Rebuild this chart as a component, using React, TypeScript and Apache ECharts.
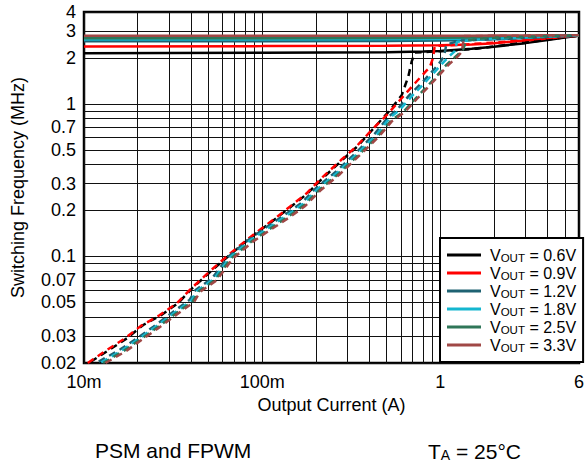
import React, { useEffect, useRef } from 'react';
import * as echarts from 'echarts';

const FONT = '"Liberation Sans", Arial, Helvetica, sans-serif';

// ---- axis ticks / labels ----
const xLabelValues = [0.01, 0.1, 1, 6];
const xLabelTexts = ['10m', '100m', '1', '6'];
const xGridValues = [0.01, 0.02, 0.03, 0.04, 0.05, 0.06, 0.07, 0.08, 0.09, 0.1, 0.2, 0.3, 0.4, 0.5, 0.6, 0.7, 0.8, 0.9, 1, 2, 3, 4, 5, 6];
const yLabelValues = [0.02, 0.03, 0.05, 0.07, 0.1, 0.2, 0.3, 0.5, 0.7, 1, 2, 3, 4];
const yLabelTexts = ['0.02', '0.03', '0.05', '0.07', '0.1', '0.2', '0.3', '0.5', '0.7', '1', '2', '3', '4'];
const yGridValues = [0.02, 0.03, 0.04, 0.05, 0.06, 0.07, 0.08, 0.09, 0.1, 0.2, 0.3, 0.4, 0.5, 0.6, 0.7, 0.8, 0.9, 1, 2, 3, 4];

// ---- series ----
const seriesNames = ['0.6V', '0.9V', '1.2V', '1.8V', '2.5V', '3.3V'];
const seriesColors = ['#000000', '#ff0000', '#1e6272', '#14b6cf', '#2f7658', '#a04846'];

// FPWM (solid) – output current (A) / switching frequency (MHz)
const iFpwm06 = [0.01, 0.1, 0.5, 0.8, 1.0, 1.5, 2, 3, 4, 5, 6];
const fFpwm06 = [2.15, 2.16, 2.18, 2.2, 2.22, 2.3, 2.37, 2.5, 2.62, 2.72, 2.8];
const iFpwm09 = [0.01, 0.1, 0.5, 1, 1.5, 2, 3, 4, 5, 6];
const fFpwm09 = [2.38, 2.39, 2.4, 2.42, 2.45, 2.5, 2.6, 2.68, 2.75, 2.8];
const iFpwm12 = [0.01, 0.1, 0.5, 1, 1.5, 2, 3, 4, 5, 6];
const fFpwm12 = [2.57, 2.57, 2.58, 2.6, 2.62, 2.65, 2.7, 2.74, 2.77, 2.8];
const iFpwm18 = [0.01, 0.1, 0.5, 1, 1.5, 2, 3, 4, 5, 6];
const fFpwm18 = [2.64, 2.64, 2.65, 2.66, 2.68, 2.7, 2.73, 2.76, 2.78, 2.8];
const iFpwm25 = [0.01, 0.1, 0.5, 1, 1.5, 2, 3, 4, 5, 6];
const fFpwm25 = [2.69, 2.69, 2.7, 2.71, 2.72, 2.73, 2.75, 2.77, 2.79, 2.81];
const iFpwm33 = [0.01, 0.1, 0.5, 1, 1.5, 2, 3, 4, 5, 6];
const fFpwm33 = [2.8, 2.8, 2.8, 2.8, 2.8, 2.81, 2.81, 2.82, 2.82, 2.82];

// PSM (dashed)
const iPsm06 = [0.0109, 0.0138, 0.0174, 0.0215, 0.0272, 0.0337, 0.0405, 0.0501, 0.0594, 0.0767, 0.095, 0.12, 0.149, 0.18, 0.223, 0.282, 0.341, 0.423, 0.523, 0.607, 0.661, 0.69, 0.72, 0.9, 1.2, 1.6, 2, 3, 4, 5, 6];
const fPsm06 = [0.0204, 0.0243, 0.029, 0.0355, 0.0413, 0.0493, 0.0618, 0.0775, 0.0923, 0.119, 0.145, 0.178, 0.217, 0.259, 0.333, 0.429, 0.524, 0.692, 0.912, 1.14, 1.51, 1.89, 2.17, 2.2, 2.24, 2.3, 2.38, 2.52, 2.64, 2.73, 2.8];
const iPsm09 = [0.0105, 0.0132, 0.0168, 0.021, 0.0265, 0.033, 0.0398, 0.049, 0.058, 0.075, 0.093, 0.118, 0.146, 0.177, 0.219, 0.277, 0.336, 0.42, 0.501, 0.594, 0.72, 0.836, 0.87, 0.91, 0.93, 1.3, 2, 3, 4, 5, 6];
const fPsm09 = [0.02, 0.024, 0.0288, 0.0352, 0.0411, 0.049, 0.0612, 0.0768, 0.0915, 0.118, 0.144, 0.177, 0.216, 0.258, 0.332, 0.428, 0.522, 0.69, 0.846, 1.06, 1.365, 1.65, 1.72, 2.0, 2.4, 2.44, 2.52, 2.62, 2.7, 2.76, 2.8];
const iPsm12 = [0.0121, 0.016, 0.0198, 0.0245, 0.0309, 0.0391, 0.0423, 0.0523, 0.0647, 0.0836, 0.1035, 0.1337, 0.1653, 0.2004, 0.26, 0.349, 0.43, 0.512, 0.57, 0.67, 0.8, 0.97, 1.05, 1.08, 1.3, 1.6, 2, 3, 4, 5, 6];
const fPsm12 = [0.0204, 0.0246, 0.029, 0.0346, 0.0424, 0.0518, 0.0602, 0.0718, 0.0996, 0.128, 0.153, 0.187, 0.223, 0.28, 0.36, 0.499, 0.64, 0.824, 0.912, 1.14, 1.4, 1.8, 2.05, 2.45, 2.6, 2.63, 2.66, 2.71, 2.75, 2.78, 2.8];
const iPsm18 = [0.0125, 0.0165, 0.0203, 0.025, 0.0316, 0.04, 0.0432, 0.0535, 0.066, 0.0855, 0.106, 0.137, 0.169, 0.205, 0.266, 0.357, 0.44, 0.52, 0.585, 0.69, 0.82, 1.0, 1.12, 1.2, 1.24, 1.5, 2, 3, 4, 5, 6];
const fPsm18 = [0.0202, 0.0244, 0.0288, 0.0343, 0.042, 0.0513, 0.0596, 0.071, 0.0985, 0.127, 0.151, 0.185, 0.22, 0.277, 0.356, 0.495, 0.63, 0.81, 0.9, 1.12, 1.38, 1.78, 2.05, 2.2, 2.55, 2.62, 2.67, 2.72, 2.76, 2.79, 2.81];
const iPsm25 = [0.0128, 0.0168, 0.0207, 0.0256, 0.0322, 0.0408, 0.0441, 0.0545, 0.0672, 0.087, 0.108, 0.14, 0.172, 0.209, 0.27, 0.362, 0.45, 0.53, 0.621, 0.73, 0.93, 1.08, 1.25, 1.34, 1.4, 1.7, 2, 3, 4, 5, 6];
const fPsm25 = [0.02, 0.0241, 0.0285, 0.034, 0.0416, 0.0508, 0.059, 0.0703, 0.0975, 0.125, 0.149, 0.182, 0.217, 0.272, 0.35, 0.485, 0.62, 0.78, 0.889, 1.09, 1.47, 1.8, 2.1, 2.26, 2.6, 2.68, 2.71, 2.75, 2.78, 2.8, 2.82];
const iPsm33 = [0.0132, 0.0172, 0.021, 0.026, 0.0328, 0.0415, 0.0448, 0.0555, 0.0683, 0.088, 0.11, 0.142, 0.175, 0.212, 0.274, 0.366, 0.455, 0.535, 0.63, 0.74, 0.94, 1.1, 1.27, 1.32, 1.36, 1.8, 2.2, 3, 4, 5, 6];
const fPsm33 = [0.02, 0.0239, 0.0283, 0.0337, 0.0412, 0.0503, 0.0585, 0.0697, 0.0965, 0.124, 0.148, 0.18, 0.215, 0.27, 0.347, 0.48, 0.615, 0.77, 0.88, 1.08, 1.45, 1.78, 2.08, 2.2, 2.78, 2.79, 2.8, 2.8, 2.81, 2.81, 2.82];

const fpwmI = [iFpwm06, iFpwm09, iFpwm12, iFpwm18, iFpwm25, iFpwm33];
const fpwmF = [fFpwm06, fFpwm09, fFpwm12, fFpwm18, fFpwm25, fFpwm33];
const psmI = [iPsm06, iPsm09, iPsm12, iPsm18, iPsm25, iPsm33];
const psmF = [fPsm06, fPsm09, fPsm12, fPsm18, fPsm25, fPsm33];

const zip = (xs: number[], ys: number[]) => xs.map((x, i) => [x, ys[i]]);
const lookup = (vals: number[], texts: string[]) => (v: number) => {
  for (let i = 0; i < vals.length; i++) {
    if (Math.abs(v - vals[i]) / vals[i] < 1e-6) return texts[i];
  }
  return '';
};

export default function App() {
  const ref = useRef<HTMLDivElement>(null);
  useEffect(() => {
    if (!ref.current) return;
    const chart = echarts.init(ref.current, null, { renderer: 'svg' });
    const series: any[] = [];
    seriesNames.forEach((n, k) => {
      series.push({
        name: n,
        type: 'line',
        data: zip(fpwmI[k], fpwmF[k]),
        symbol: 'none',
        lineStyle: { color: seriesColors[k], width: 2.5, type: 'solid' },
        itemStyle: { color: seriesColors[k] },
        z: 2,
      });
    });
    seriesNames.forEach((n, k) => {
      series.push({
        name: n + ' PSM',
        type: 'line',
        data: zip(psmI[k], psmF[k]),
        symbol: 'none',
        lineStyle: { color: seriesColors[k], width: 2.5, type: [7, 5] },
        itemStyle: { color: seriesColors[k] },
        z: 3,
      });
    });

    chart.setOption({
      animation: false,
      backgroundColor: '#fff',
      grid: {
        left: 84, right: 3, top: 12, bottom: 102,
        show: true, borderColor: '#000', borderWidth: 2.5, backgroundColor: 'transparent',
      },
      xAxis: {
        type: 'log', min: 0.01, max: 6, logBase: 10,
        name: 'Output Current (A)', nameLocation: 'middle', nameGap: 32,
        nameTextStyle: { fontFamily: FONT, fontSize: 18, color: '#000' },
        axisLine: { show: false },
        axisTick: { show: false, customValues: xGridValues },
        axisLabel: {
          customValues: xLabelValues, formatter: lookup(xLabelValues, xLabelTexts),
          fontFamily: FONT, fontSize: 18, color: '#000', margin: 10, showMinLabel: true, showMaxLabel: true,
        },
        splitLine: { show: true, lineStyle: { color: '#111', width: 1 } },
        minorSplitLine: { show: false },
      },
      yAxis: {
        type: 'log', min: 0.02, max: 4, logBase: 10,
        name: 'Switching Frequency (MHz)', nameLocation: 'middle', nameGap: 57,
        nameTextStyle: { fontFamily: FONT, fontSize: 18, color: '#000' },
        axisLine: { show: false },
        axisTick: { show: false, customValues: yGridValues },
        axisLabel: {
          customValues: yLabelValues, formatter: lookup(yLabelValues, yLabelTexts),
          fontFamily: FONT, fontSize: 18, color: '#000', margin: 8, showMinLabel: true, showMaxLabel: true,
        },
        splitLine: { show: true, lineStyle: { color: '#111', width: 1 } },
      },
      legend: {
        data: seriesNames,
        orient: 'vertical',
        left: 440, top: 238,
        padding: [8, 7, 8, 7],
        itemGap: 0,
        icon: 'rect',
        itemWidth: 34, itemHeight: 3,
        backgroundColor: '#fff',
        borderColor: '#000', borderWidth: 2, borderRadius: 0,
        formatter: (name: string) => `{v0|V}{s|OUT}{v| = ${name}}`,
        textStyle: {
          fontFamily: FONT, fontSize: 16, color: '#000',
          rich: {
            v0: { fontFamily: FONT, fontSize: 16, color: '#000', lineHeight: 18, padding: [0, 0, 0, 4] },
            v: { fontFamily: FONT, fontSize: 16, color: '#000', lineHeight: 18 },
            s: { fontFamily: FONT, fontSize: 11.5, color: '#000', lineHeight: 18, verticalAlign: 'bottom', padding: [6, 0, 0, 0] },
          },
        },
      },
      graphic: [
        { type: 'text', left: 95, top: 440, style: { text: 'PSM and FPWM', font: `21px ${FONT}`, fill: '#000' } },
        {
          type: 'text', left: 428, top: 440,
          style: {
            text: '{a|T}{b|A}{a| = 25°C}',
            fill: '#000',
            rich: {
              a: { fontFamily: FONT, fontSize: 21, fill: '#000', lineHeight: 22 },
              b: { fontFamily: FONT, fontSize: 14, fill: '#000', lineHeight: 22, verticalAlign: 'bottom', padding: [8, 0, 0, 0] },
            },
          },
        },
      ],
      series,
    });
    return () => chart.dispose();
  }, []);
  return <div ref={ref} style={{ position: 'fixed', left: 0, top: 0, width: 587, height: 465 }} />;
}
